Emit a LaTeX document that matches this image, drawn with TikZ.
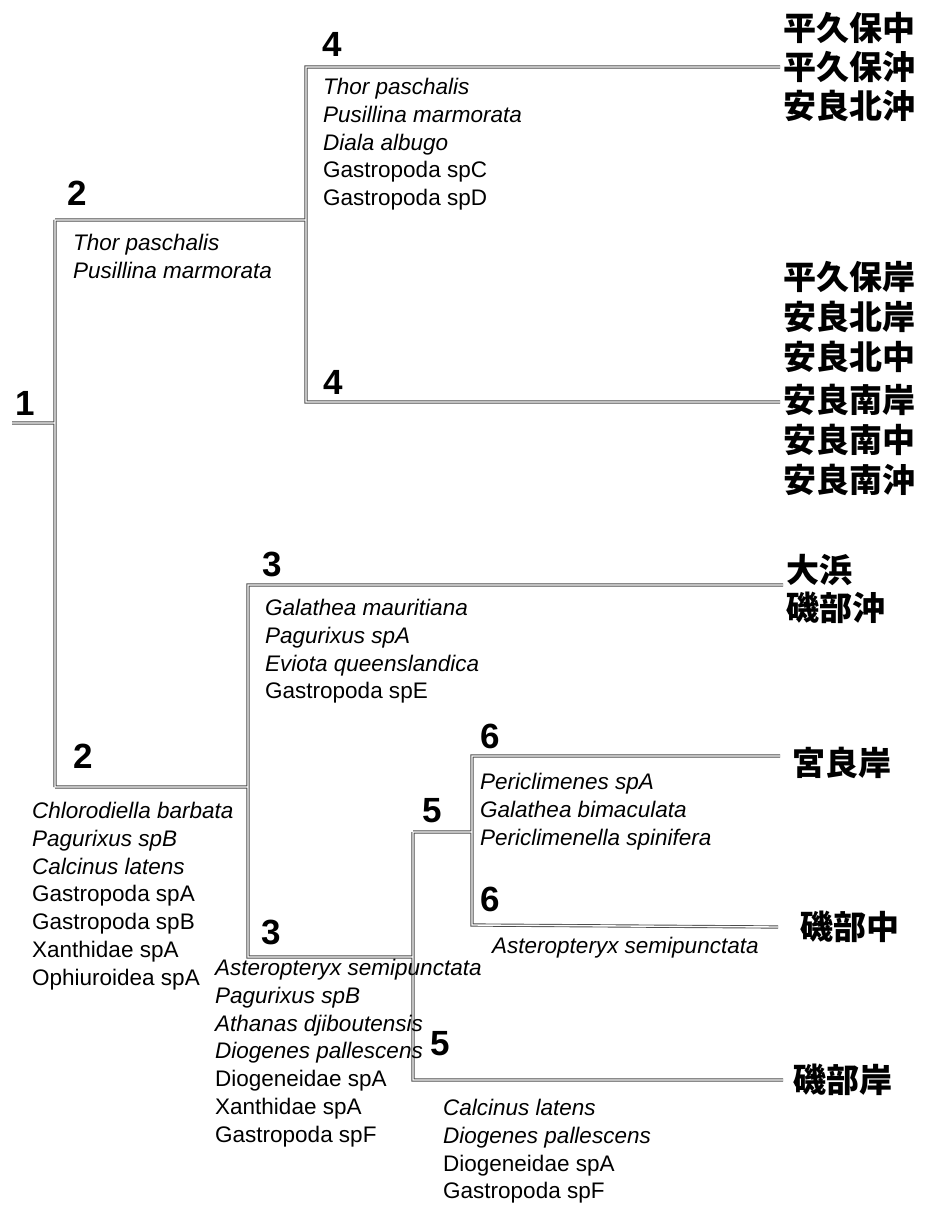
\documentclass[tikz,border=0pt]{standalone}
\usepackage{fontspec}
\setmainfont{Liberation Sans}
\newfontfamily\jpfont{Noto Sans CJK JP}
\usepackage{tikz}

\begin{document}
\begin{tikzpicture}[x=1pt, y=-1pt,
num/.style={font=\fontsize{35}{35}\selectfont\bfseries, inner sep=0pt},
species/.style={anchor=west, inner sep=0pt, text height=16pt, text depth=5pt, font=\fontsize{22.5}{24}\selectfont},
site/.style={anchor=west, inner sep=0pt, font=\jpfont\bfseries\fontsize{33}{33}\selectfont},
branchout/.style={line width=3.2pt, black!70},
branchin/.style={line width=1.4pt, white}]
\useasboundingbox (0,0) rectangle (927,1206);
\def\lsep{27.8}
% sites on the right
\foreach \name/\txt/\x/\y in {hiraN/平久保中/783/28, hiraO/平久保沖/783/67, araNO/安良北沖/783/106,
  hiraK/平久保岸/783/277, araNK/安良北岸/783/317, araNN/安良北中/783/357,
  araSK/安良南岸/783/400, araSN/安良南中/783/440, araSO/安良南沖/783/480,
  ohama/大浜/786/570, isoO/磯部沖/786/608, miyaK/宮良岸/792/763,
  isoN/磯部中/800/927, isoK/磯部岸/793/1080} {
  \node [site] (\name) at (\x, \y) {\txt};
}
% junctions of the tree
\coordinate (stub) at (12,423);
\coordinate (j1) at (55,423);
\coordinate (j1t) at (55,220);
\coordinate (j1b) at (55,787);
\coordinate (j4m) at (306,220);
\coordinate (j4b) at (306,402);
\coordinate (j3m) at (248,787);
\coordinate (j3t) at (248,585);
\coordinate (j3b) at (248,957);
\coordinate (j5m) at (413,957);
\coordinate (j5t) at (413,832);
\coordinate (j5b) at (413,1080);
\coordinate (j6m) at (472,832);
\coordinate (j6t) at (472,756);
\coordinate (j6b) at (472,925);
% branches, outline first and white core on top
\def\branches{(stub) -- (j1)
  (j1t) -- (j1b)
  (j1t) -- (j4m)
  ([xshift=-3pt]hiraO.west) -| (j4b) -- ([xshift=-3pt]j4b -| araSK.west)
  (j1b) -- (j3m)
  ([xshift=-3pt]j3t -| ohama.west) -- (j3t) -- (j3b) -- (j5m)
  (j5t) -- (j5b) -- ([xshift=-10pt]isoK.west)
  (j5t) -- (j6m)
  ([xshift=-12pt]j6t -| miyaK.west) -- (j6t) -- (j6b) -- ([xshift=-22pt]isoN.west)}
\draw [branchout] \branches;
\draw [branchin] \branches;
% cluster numbers
\foreach \name/\txt/\x/\y in {n1/1/25/403, n2a/2/77/193, n4a/4/332/44, n4b/4/333/382,
  n2b/2/83/756, n3a/3/272/564, n3b/3/271/932, n6a/6/490/736, n5a/5/432/811,
  n6b/6/490/899, n5b/5/440/1044} {
  \node [num] (\name) at (\x, \y) {\txt};
}
% indicator species
\foreach \sp [count=\i] in {\textit{Thor paschalis}, \textit{Pusillina marmorata}, \textit{Diala albugo}, Gastropoda spC, Gastropoda spD}
  \node [species] (sp4a-\i) at (323, {89+\lsep*(\i-1)}) {\sp};
\foreach \sp [count=\i] in {\textit{Thor paschalis}, \textit{Pusillina marmorata}}
  \node [species] (sp2a-\i) at (73, {245+\lsep*(\i-1)}) {\sp};
\foreach \sp [count=\i] in {\textit{Galathea mauritiana}, \textit{Pagurixus spA}, \textit{Eviota queenslandica}, Gastropoda spE}
  \node [species] (sp3a-\i) at (265, {610+\lsep*(\i-1)}) {\sp};
\foreach \sp [count=\i] in {\textit{Chlorodiella barbata}, \textit{Pagurixus spB}, \textit{Calcinus latens}, Gastropoda spA, Gastropoda spB, Xanthidae spA, Ophiuroidea spA}
  \node [species] (sp2b-\i) at (32, {813+\lsep*(\i-1)}) {\sp};
\foreach \sp [count=\i] in {\textit{Periclimenes spA}, \textit{Galathea bimaculata}, \textit{Periclimenella spinifera}}
  \node [species] (sp6a-\i) at (480, {784+\lsep*(\i-1)}) {\sp};
\node [species] (sp6b-1) at (492, 948) {\textit{Asteropteryx semipunctata}};
\foreach \sp [count=\i] in {\textit{Asteropteryx semipunctata}, \textit{Pagurixus spB}, \textit{Athanas djiboutensis}, \textit{Diogenes pallescens}, Diogeneidae spA, Xanthidae spA, Gastropoda spF}
  \node [species] (sp3b-\i) at (215, {970+\lsep*(\i-1)}) {\sp};
\foreach \sp [count=\i] in {\textit{Calcinus latens}, \textit{Diogenes pallescens}, Diogeneidae spA, Gastropoda spF}
  \node [species] (sp5b-\i) at (443, {1110+\lsep*(\i-1)}) {\sp};
\end{tikzpicture}
\end{document}
